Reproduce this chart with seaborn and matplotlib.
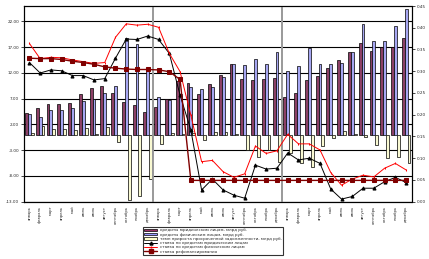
import numpy as np
import pandas as pd
import matplotlib
matplotlib.use("Agg")
import matplotlib.pyplot as plt
import seaborn as sns
from matplotlib.patches import Patch
from matplotlib.lines import Line2D
from matplotlib.ticker import FormatStrFormatter

# ---- data -------------------------------------------------------------
month_names = ["январь", "февраль", "март", "апрель", "май", "июнь",
               "июль", "август", "сентябрь", "октябрь", "ноябрь", "декабрь"]
tick_labels = month_names * 3

series_names = [
    "кредиты юридическим лицам, млрд руб.",
    "кредиты физическим лицам, млрд руб.",
    "темп прироста просроченной задолженности, млрд руб.",
    "ставка по кредитам юридическим лицам",
    "ставка по кредитам физическим лицам",
    "ставка рефинансирования",
]

bars_purple = [4.2, 5.1, 5.9, 5.9, 6.1, 7.9, 9.0, 9.5, 8.1, 6.3, 5.7, 4.4,
               5.3, 6.9, 10.5, 10.1, 7.9, 9.9, 11.6, 13.7, 10.8, 10.6, 10.8, 11.0,
               7.3, 8.1, 10.6, 11.5, 13.0, 14.5, 16.0, 17.8, 16.3, 17.0, 17.0, 18.8]
bars_blue = [4.0, 3.4, 4.9, 4.8, 5.1, 6.6, 6.9, 8.1, 9.5, 18.7, 17.7, 12.8,
             7.3, 6.8, 7.9, 9.3, 8.9, 9.2, 11.2, 13.7, 13.5, 14.7, 13.7, 16.0,
             12.4, 13.4, 16.8, 13.7, 13.7, 13.9, 16.1, 21.5, 18.2, 18.2, 21.1, 24.4]
bars_yellow = [0.3, 1.7, 1.1, 1.1, 0.9, 1.3, 0.2, 1.5, -1.5, -12.7, -11.9, -8.5,
               -1.8, 0.4, 0.2, 0.3, -1.0, 0.5, 0.5, 0.1, -3.0, -4.3, -3.0, -5.2,
               -3.5, -5.5, -6.2, -2.1, -0.7, 0.7, 0.1, -0.4, -2.0, -4.6, -4.3, -5.5]

line_black = [0.320, 0.296, 0.303, 0.301, 0.290, 0.290, 0.280, 0.283, 0.330, 0.374, 0.373, 0.381,
              0.373, 0.341, 0.245, 0.165, 0.027, 0.052, 0.027, 0.015, 0.008, 0.084, 0.075, 0.077,
              0.112, 0.096, 0.100, 0.088, 0.029, 0.006, 0.012, 0.031, 0.031, 0.046, 0.056, 0.044]
line_red = [0.364, 0.329, 0.332, 0.331, 0.326, 0.322, 0.318, 0.320, 0.378, 0.409, 0.406, 0.408,
            0.401, 0.341, 0.299, 0.199, 0.092, 0.095, 0.069, 0.056, 0.064, 0.128, 0.111, 0.117,
            0.155, 0.133, 0.133, 0.119, 0.067, 0.038, 0.052, 0.061, 0.057, 0.077, 0.088, 0.073]
line_darkred = [0.330, 0.329, 0.329, 0.327, 0.323, 0.320, 0.316, 0.310, 0.307, 0.305, 0.304, 0.304,
                0.303, 0.299, 0.281, 0.049, 0.049, 0.049, 0.049, 0.049, 0.049, 0.049, 0.049, 0.049,
                0.049, 0.049, 0.049, 0.049, 0.049, 0.049, 0.049, 0.049, 0.049, 0.049, 0.049, 0.049]

bar_colors = ["#993366", "#9999FF", "#FFFFCC"]
line_colors = ["#000000", "#FF0000", "#800000"]

# ---- figure -----------------------------------------------------------
sns.set_theme(style="white")
plt.rcParams["font.family"] = ["DejaVu Sans"]

W, H = 429, 259
fig = plt.figure(figsize=(W / 100, H / 100), dpi=100)
ax = fig.add_axes([24 / W, (H - 201.7) / H, (411.5 - 24) / W, (201.7 - 6) / H])

n = len(tick_labels)
idx = list(range(n))
df = pd.DataFrame({
    "idx": idx * 3,
    "value": bars_purple + bars_blue + bars_yellow,
    "series": [series_names[0]] * n + [series_names[1]] * n + [series_names[2]] * n,
})
sns.barplot(data=df, x="idx", y="value", hue="series", hue_order=series_names[:3],
            palette=bar_colors, width=0.8, edgecolor="black", linewidth=0.5,
            legend=False, ax=ax, zorder=2)

ax.set_ylim(-13, 25)
ax.set_yticks(np.arange(-13, 23, 5))
ax.yaxis.set_major_formatter(FormatStrFormatter("%.2f"))
ax.yaxis.grid(True, color="black", linewidth=0.8, zorder=0)
ax.set_axisbelow(True)
ax.set_xlabel("")
ax.set_ylabel("")
ax.set_xticks(idx)
ax.set_xticklabels(tick_labels, rotation=90, fontsize=2.7)
ax.tick_params(axis="x", length=0, pad=3)
ax.tick_params(axis="y", labelsize=3.0, length=2, width=0.6, direction="out", left=True, pad=1.5)
for sp in ax.spines.values():
    sp.set_color("black")
    sp.set_linewidth(0.8)

for b in (11.5, 23.5):
    ax.axvline(b, color="#999999", linewidth=1.4, zorder=3)

ax2 = ax.twinx()
markers = ["^", "|", "s"]
msizes = [2.2, 2.0, 2.2]
lwidths = [0.7, 0.7, 1.0]
for vals, col, mk, ms, lw in zip([line_black, line_red, line_darkred], line_colors, markers, msizes, lwidths):
    sns.lineplot(x=idx, y=vals, color=col, marker=mk, markersize=ms, markeredgecolor=col,
                 markerfacecolor=col, linewidth=lw, ax=ax2, legend=False)
ax2.set_ylim(0, 0.45)
ax2.set_yticks(np.arange(0, 0.451, 0.05))
ax2.yaxis.set_major_formatter(FormatStrFormatter("%.2f"))
ax2.tick_params(axis="y", labelsize=3.0, length=2, width=0.6, direction="out", right=True, pad=1.5)
ax2.set_ylabel("")
ax2.grid(False)
ax.set_xlim(-0.5, n - 0.5)
ax2.set_xlim(-0.5, n - 0.5)
for sp in ax2.spines.values():
    sp.set_color("black")
    sp.set_linewidth(0.8)

handles = [Patch(facecolor=c, edgecolor="black", linewidth=0.5) for c in bar_colors]
for col, mk, ms, lw in zip(line_colors, markers, msizes, lwidths):
    handles.append(Line2D([0], [0], color=col, marker=mk, markersize=ms, linewidth=lw,
                          markerfacecolor=col, markeredgecolor=col))
leg = fig.legend(handles, series_names, loc="upper left",
                 bbox_to_anchor=(143 / W, 1 - 227 / H), fontsize=2.9, frameon=True,
                 fancybox=False, edgecolor="black", borderpad=0.3, labelspacing=0.08,
                 handlelength=3.2, handleheight=0.6, handletextpad=0.6, borderaxespad=0)
leg.get_frame().set_linewidth(0.8)

fig.savefig("out.png", dpi=100)
